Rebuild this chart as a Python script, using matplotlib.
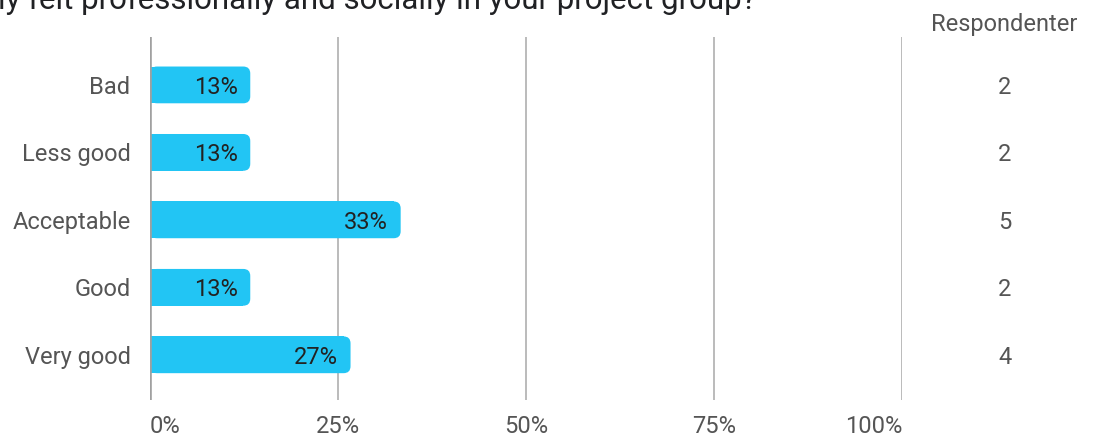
import matplotlib
matplotlib.use("Agg")
import matplotlib.pyplot as plt
from matplotlib.patches import FancyBboxPatch, Rectangle
from matplotlib.transforms import blended_transform_factory

plt.rcParams['font.family'] = ['Roboto', 'DejaVu Sans']

# Data
categories = ['Bad', 'Less good', 'Acceptable', 'Good', 'Very good']
counts = [2, 2, 5, 2, 4]
total = sum(counts)
shares = [c / total * 100 for c in counts]
tick_vals = [0, 25, 50, 75, 100]
tick_labels = ['0%', '25%', '50%', '75%', '100%']

bar_color = '#22c5f4'
label_color = '#555555'
fs = 17

fig = plt.figure(figsize=(10.96, 4.37), dpi=100)
ax = fig.add_axes([150 / 1096, 1 - 400 / 437, 752 / 1096, 363 / 437])
ax.set_xlim(0, 100)
ax.set_ylim(4.67, -0.71)

# grid lines
for v in tick_vals[1:]:
    ax.axvline(v, color='#a8a8a8', lw=1.1, zorder=1)
ax.axvline(0, color='#a0a0a0', lw=2.6, zorder=4)

# rounded bars (right side only)
bar_h = 0.545
px_x = 100 / 752.0
px_y = 5.38 / 363.0
r = 7 * px_x
for i, s in enumerate(shares):
    y0 = i - bar_h / 2
    ax.add_patch(Rectangle((0, y0), s - r, bar_h, facecolor=bar_color,
                           edgecolor='none', zorder=2))
    ax.add_patch(FancyBboxPatch((0, y0), s, bar_h,
                                boxstyle=f"round,pad=0,rounding_size={r}",
                                mutation_aspect=px_y / px_x,
                                facecolor=bar_color, edgecolor='none', zorder=2))
    ax.text(s - 1.7, i, f"{round(s)}%", ha='right', va='center_baseline',
            fontsize=fs, color='#222222', zorder=5)

ax.set_yticks(range(len(categories)))
ax.set_yticklabels(categories, fontsize=fs, color=label_color)
ax.tick_params(axis='y', length=0, pad=14)

ax.set_xticks(tick_vals)
ax.set_xticklabels(tick_labels, fontsize=fs, color=label_color)
ax.tick_params(axis='x', length=0, pad=11)
xt = ax.get_xticklabels()
xt[0].set_ha('left')
xt[-1].set_ha('right')
for t in xt[1:-1]:
    t.set_ha('center')

for sp in ax.spines.values():
    sp.set_visible(False)

# respondent counts column
tr = blended_transform_factory(fig.transFigure, ax.transData)
for i, c in enumerate(counts):
    ax.text(1005 / 1096, i, str(c), transform=tr, ha='center',
            va='center_baseline', fontsize=fs, color=label_color)
fig.text(1004 / 1096, 1 - 22 / 437, 'Respondenter', ha='center',
         va='center_baseline', fontsize=fs, color=label_color)

# title (cut off at the top of the crop)
fig.text(-2 / 1096, 1 - 9 / 437, 'ly felt professionally and socially in your project group?',
         ha='left', va='baseline', fontsize=22.5, color='#202124')

fig.savefig('out.png', dpi=100)
